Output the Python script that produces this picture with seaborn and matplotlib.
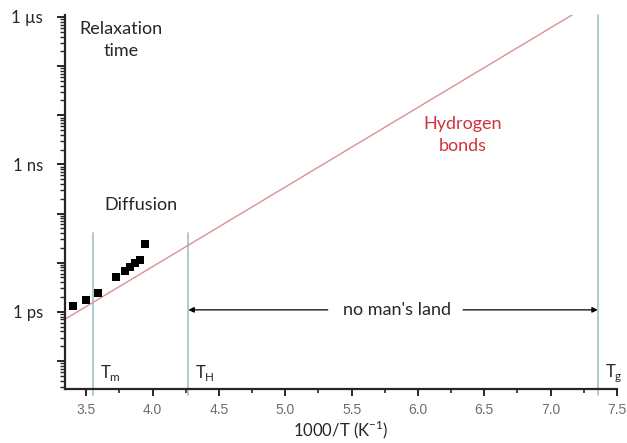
import numpy as np
import pandas as pd
import matplotlib
matplotlib.use("Agg")
import matplotlib.pyplot as plt
from matplotlib.ticker import LogLocator, FixedLocator, FuncFormatter, NullFormatter
import seaborn as sns

# Diffusion relaxation times (1000/T in K^-1, tau in seconds)
diff_invT = [3.40, 3.50, 3.585, 3.725, 3.795, 3.83, 3.87, 3.905, 3.945]
diff_tau = [10**-11.88, 10**-11.76, 10**-11.61, 10**-11.30, 10**-11.16,
            10**-11.08, 10**-11.01, 10**-10.94, 10**-10.61]

# Arrhenius line for hydrogen-bond dynamics
hb_invT = [3.34, 7.5]
hb_tau = [10**-12.15, 10**-5.41]

# Characteristic temperatures (1000/T)
temp_names = [r"T$_\mathregular{m}$", r"T$_\mathregular{H}$", r"T$_\mathregular{g}$"]
temp_invT = [3.55, 4.27, 7.355]

# Axis ticks
x_ticks = [3.5, 4.0, 4.5, 5.0, 5.5, 6.0, 6.5, 7.0, 7.5]
y_labelled = {1e-12: "1 ps", 1e-9: "1 ns", 1e-6: "1 \u00b5s"}

sns.set_style("ticks")
plt.rcParams["font.family"] = ["Lato", "DejaVu Sans"]

fig = plt.figure(figsize=(6.27, 4.43), dpi=100)
ax = fig.add_axes([65 / 627, 1 - 389 / 443, (617 - 65) / 627, (389 - 15) / 443])
ax.set_yscale("log")
ax.set_xlim(3.34, 7.5)
ax.set_ylim(10**-13.57, 10**-5.96)

vcol = "#a9c6cd"
# Vertical markers for Tm, TH, Tg (extend a little below the axis)
tops = [10**-10.4, 10**-10.4, 10**-5.96]
for xv, top in zip(temp_invT, tops):
    ax.plot([xv, xv], [10**-13.70, top], color=vcol, lw=1.3, clip_on=False, zorder=1)

hb_df = pd.DataFrame({"invT": hb_invT, "tau": hb_tau})
sns.lineplot(data=hb_df, x="invT", y="tau", color="#dd8f93", lw=1.0, ax=ax, zorder=2)

diff_df = pd.DataFrame({"invT": diff_invT, "tau": diff_tau})
sns.scatterplot(data=diff_df, x="invT", y="tau", marker="s", s=38, color="black",
                edgecolor="black", linewidth=0, ax=ax, zorder=3)

# Spines and ticks
sns.despine(ax=ax)
for side in ("left", "bottom"):
    ax.spines[side].set_linewidth(1.6)
ax.xaxis.set_major_locator(FixedLocator(x_ticks))
ax.xaxis.set_minor_locator(FixedLocator([3.75, 4.25, 4.75, 5.25, 5.75, 6.25, 6.75, 7.25]))
ax.tick_params(axis="x", which="major", length=5, width=1.4, labelsize=10,
               labelcolor="#6e6e6e", pad=5)
ax.tick_params(axis="x", which="minor", length=3, width=1.2)
for lab in ax.get_xticklabels():
    lab.set_fontfamily("Liberation Sans")

ax.yaxis.set_major_locator(LogLocator(base=10, numticks=20))
ax.yaxis.set_minor_locator(LogLocator(base=10, subs=np.arange(2, 10), numticks=20))
ax.yaxis.set_major_formatter(FuncFormatter(
    lambda v, p: next((t for k, t in y_labelled.items() if abs(np.log10(v) - np.log10(k)) < 1e-6), "")))
ax.yaxis.set_minor_formatter(NullFormatter())
ax.tick_params(axis="y", which="major", length=6, width=1.4, labelsize=12, pad=10)
ax.tick_params(axis="y", which="minor", length=3.5, width=1.0)

ax.set_xlabel(r"1000/T (K$^\mathregular{-1}$)", fontsize=12, labelpad=1)
ax.set_ylabel("")

# Annotations, placed in figure pixels measured from the top-left corner
def fig_text(px, py, s, **kw):
    fig.text(px / 627, 1 - py / 443, s, ha="center", va="center", **kw)

fig_text(121, 40, "Relaxation\ntime", fontsize=13, linespacing=1.45)
fig_text(141, 205, "Diffusion", fontsize=13)
fig_text(463, 135, "Hydrogen\nbonds", fontsize=13, color="#d1323c", linespacing=1.45)
fig_text(397, 310, "no man's land", fontsize=13)

y_arrow = 10**-11.96
arrow_kw = dict(arrowstyle="-|>", color="black", lw=0.9, mutation_scale=8,
                shrinkA=0, shrinkB=0)
ax.annotate("", xy=(temp_invT[1], y_arrow), xytext=(5.32, y_arrow), arrowprops=arrow_kw)
ax.annotate("", xy=(temp_invT[2], y_arrow), xytext=(6.34, y_arrow), arrowprops=arrow_kw)

for name, xv in zip(temp_names, temp_invT):
    ax.annotate(name, xy=(xv, 10**-13.25), xytext=(5, 0), textcoords="offset points",
                fontsize=12, ha="left", va="center")

fig.savefig("out.png", dpi=100)
